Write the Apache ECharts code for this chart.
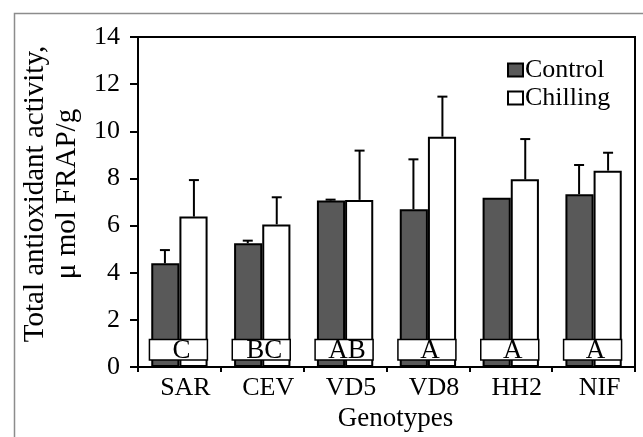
<!DOCTYPE html>
<html>
<head>
<meta charset="utf-8">
<script src="https://cdn.jsdelivr.net/npm/echarts@6/dist/echarts.min.js"></script>
<style>
    html, body { margin: 0; padding: 0; background: #fff; }
    #chart { width: 643px; height: 437px; }
</style>
</head>
<body>
<div id="chart"></div>
<script>
// values
var genotypes    = ['SAR', 'CEV', 'VD5', 'VD8', 'HH2', 'NIF'];
var controlMean  = [4.40, 5.25, 7.06, 6.69, 7.18, 7.33];
var controlSD    = [0.56, 0.11, 0.04, 2.12, 0, 1.24];
var chillingMean = [6.38, 6.05, 7.09, 9.77, 7.96, 8.33];
var chillingSD   = [1.55, 1.15, 2.09, 1.70, 1.71, 0.76];
var letters      = ['C', 'BC', 'AB', 'A', 'A', 'A'];
var yMin = 0, yMax = 14, yStep = 2;

var FONT = 'Liberation Serif';
var BAR_SHARE = 0.35;

// upward-only error whisker, side = -1 for left bar, +1 for right bar
function errorRenderer(side) {
    return function (params, api) {
        var cat = api.value(0), mean = api.value(1), sd = api.value(2);
        if (!sd) return;
        var w = api.size([1, 0])[0] * BAR_SHARE;
        var base = api.coord([cat, mean]);
        var top  = api.coord([cat, mean + sd]);
        var x = base[0] + side * w / 2;
        var st = { stroke: '#000', lineWidth: 2 };
        return {
            type: 'group',
            children: [
                { type: 'line', shape: { x1: x, y1: base[1], x2: x, y2: top[1] }, style: st },
                { type: 'line', shape: { x1: x - 5, y1: top[1], x2: x + 5, y2: top[1] }, style: st }
            ]
        };
    };
}

// white label box with the significance letters
function letterRenderer(params, api) {
    var cat = api.value(0);
    var w  = api.size([1, 0])[0] * BAR_SHARE;
    var lo = api.coord([cat, 0.3]);
    var hi = api.coord([cat, 1.17]);
    return {
        type: 'group',
        children: [
            {
                type: 'rect',
                shape: { x: lo[0] - w - 1, y: hi[1], width: 2 * w, height: lo[1] - hi[1] },
                style: { fill: '#fff', stroke: '#000', lineWidth: 1.5 }
            },
            {
                type: 'text',
                style: {
                    text: letters[cat], x: lo[0] + 2, y: (lo[1] + hi[1]) / 2 + 1,
                    align: 'center', verticalAlign: 'middle',
                    font: '27px "' + FONT + '"', fill: '#000'
                }
            }
        ]
    };
}

var chart = echarts.init(document.getElementById('chart'), null, { renderer: 'canvas' });

chart.setOption({
    animation: false,
    textStyle: { fontFamily: FONT, color: '#000' },
    graphic: [{
        type: 'rect',
        left: 12, top: 11,
        shape: { width: 700, height: 500 },
        style: { fill: 'none', stroke: '#8c8c8c', lineWidth: 1.5 },
        silent: true
    }],
    grid: {
        left: 138, right: 8, top: 37, bottom: 70,
        show: true, borderColor: '#000', borderWidth: 2,
        outerBoundsMode: 'none'
    },
    legend: {
        orient: 'vertical',
        left: 502, top: 52,
        itemWidth: 15, itemHeight: 13, itemGap: 2,
        icon: 'rect',
        textStyle: { fontFamily: FONT, fontSize: 26, color: '#000', padding: [0, 0, 0, -3] },
        data: ['Control', 'Chilling']
    },
    xAxis: {
        type: 'category',
        data: genotypes,
        name: 'Genotypes',
        nameLocation: 'middle',
        nameGap: 35,
        nameTextStyle: { fontFamily: FONT, fontSize: 27, color: '#000', padding: [0, 0, 0, 18] },
        axisLine: { lineStyle: { color: '#000', width: 2 } },
        axisTick: { show: true, length: 5, lineStyle: { color: '#000', width: 2 } },
        axisLabel: { fontFamily: FONT, fontSize: 26, color: '#000', margin: 8, padding: [0, 0, 0, 12] },
        splitLine: { show: false }
    },
    yAxis: {
        type: 'value',
        min: yMin, max: yMax, interval: yStep,
        name: 'Total antioxidant activity,\nμ mol FRAP/g',
        nameLocation: 'middle',
        nameRotate: 90,
        nameGap: 36,
        nameTextStyle: { fontFamily: FONT, fontSize: 29, lineHeight: 32, color: '#000', padding: [0, 0, 0, 16] },
        axisLine: { show: true, lineStyle: { color: '#000', width: 2 } },
        axisTick: { show: true, length: 8, lineStyle: { color: '#000', width: 2 } },
        axisLabel: { fontFamily: FONT, fontSize: 26, color: '#000', margin: 18 },
        splitLine: { show: false }
    },
    series: [
        {
            name: 'Control',
            type: 'bar',
            data: controlMean,
            barWidth: '34%',
            barGap: '0%',
            itemStyle: { color: '#595959', borderColor: '#000', borderWidth: 2 },
            z: 2
        },
        {
            name: 'Chilling',
            type: 'bar',
            data: chillingMean,
            barWidth: '34%',
            barGap: '0%',
            itemStyle: { color: '#fff', borderColor: '#000', borderWidth: 2 },
            z: 2
        },
        {
            type: 'custom',
            renderItem: errorRenderer(-1),
            data: genotypes.map(function (g, i) { return [i, controlMean[i], controlSD[i]]; }),
            encode: { x: 0, y: 1 },
            z: 3
        },
        {
            type: 'custom',
            renderItem: errorRenderer(1),
            data: genotypes.map(function (g, i) { return [i, chillingMean[i], chillingSD[i]]; }),
            encode: { x: 0, y: 1 },
            z: 3
        },
        {
            type: 'custom',
            renderItem: letterRenderer,
            data: genotypes.map(function (g, i) { return [i, 1]; }),
            encode: { x: 0, y: 1 },
            z: 4
        }
    ]
});
</script>
</body>
</html>
